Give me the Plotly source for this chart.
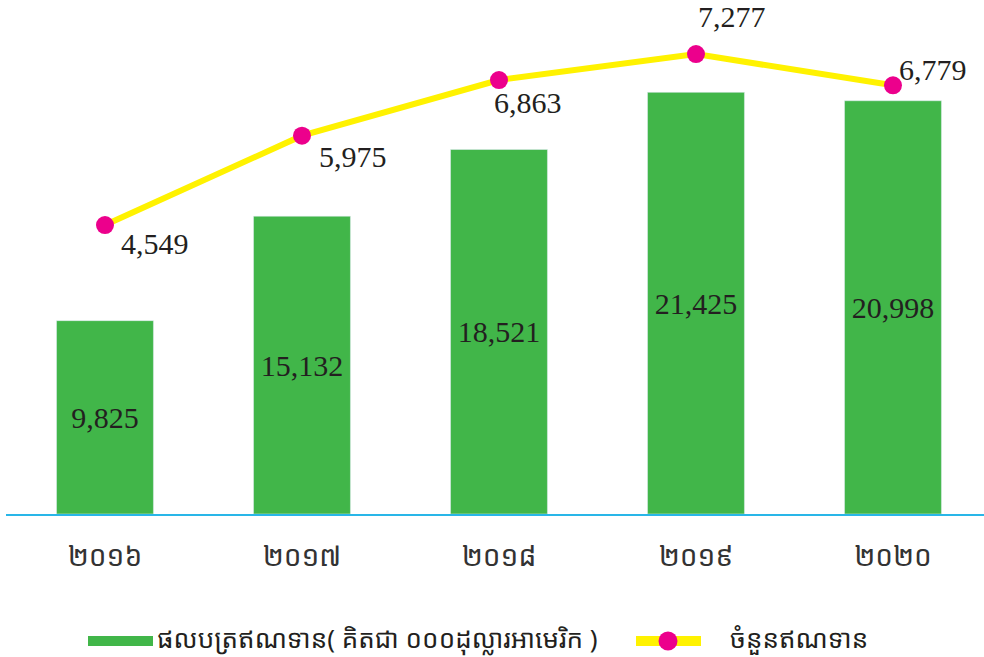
import plotly.graph_objects as go

years = ["២០១៦", "២០១៧", "២០១៨", "២០១៩", "២០២០"]
portfolio = [9825, 15132, 18521, 21425, 20998]
loans = [4549, 5975, 6863, 7277, 6779]
bar_name = "ផលបត្រឥណទាន( គិតជា ០០០ដុល្លារអាមេរិក )"
line_name = "ចំនួនឥណទាន"

GREEN = "#41B649"
YELLOW = "#FFF200"
MAGENTA = "#EC008C"
TXT = "#231F20"
SERIF = "Liberation Serif, Times New Roman, serif"
KHMER = "Noto Sans Khmer, Khmer OS, Noto Sans, DejaVu Sans, sans-serif"

W, H = 984, 657
ML, MR, MT, MB = 6, 0, 10, 143
PW, PH = W - ML - MR, H - MT - MB


def px(x):
    return (x - ML) / PW


def py(y):
    return (H - MB - y) / PH


fig = go.Figure()
fig.add_trace(go.Bar(
    x=years, y=portfolio, marker_color=GREEN, width=0.492, name=bar_name,
    text=[f"{v:,}" for v in portfolio], textposition="inside",
    insidetextanchor="middle", constraintext="none",
    textfont=dict(family=SERIF, size=30, color=TXT),
    showlegend=False, hoverinfo="skip",
))
fig.add_trace(go.Scatter(
    x=years, y=loans, yaxis="y2", mode="lines+markers", name=line_name,
    line=dict(color=YELLOW, width=6),
    marker=dict(color=MAGENTA, size=18),
    showlegend=False,
))

shifts = [(50, -18), (51, -21), (29, -22), (36, 38), (40, 16)]
for yr, v, (dx, dy) in zip(years, loans, shifts):
    fig.add_annotation(x=yr, y=v, yref="y2", xshift=dx, yshift=dy,
                       text=f"{v:,}", showarrow=False,
                       font=dict(family=SERIF, size=30, color=TXT))

# custom legend (wide swatches as in the original)
ly = 641
fig.add_shape(type="rect", xref="paper", yref="paper",
              x0=px(88), x1=px(153), y0=py(ly - 5), y1=py(ly + 5),
              fillcolor=GREEN, line_width=0)
fig.add_annotation(xref="paper", yref="paper", x=px(155), y=py(638),
                   xanchor="left", yanchor="middle", text=bar_name,
                   showarrow=False, font=dict(family=KHMER, size=26, color=TXT))
fig.add_shape(type="rect", xref="paper", yref="paper",
              x0=px(636), x1=px(701), y0=py(ly - 5), y1=py(ly + 5),
              fillcolor=YELLOW, line_width=0)
fig.add_shape(type="circle", xref="paper", yref="paper",
              x0=px(668 - 9.5), x1=px(668 + 9.5), y0=py(ly - 9.5), y1=py(ly + 9.5),
              fillcolor=MAGENTA, line_width=0)
fig.add_annotation(xref="paper", yref="paper", x=px(728), y=py(638),
                   xanchor="left", yanchor="middle", text=line_name,
                   showarrow=False, font=dict(family=KHMER, size=26, color=TXT))

fig.update_layout(
    width=W, height=H,
    margin=dict(l=ML, r=MR, t=MT, b=MB),
    paper_bgcolor="white", plot_bgcolor="white",
    showlegend=False,
    xaxis=dict(range=[-0.5025, 4.462], showline=True, linecolor="#29B6E8",
               linewidth=2, showgrid=False, zeroline=False,
               ticks="", ticklabelstandoff=16,
               tickfont=dict(family=KHMER, size=28, color="#333333")),
    yaxis=dict(range=[0, 25610], visible=False, showgrid=False),
    yaxis2=dict(range=[-60, 7980], overlaying="y", visible=False,
                showgrid=False),
)

fig.write_html("out.html", post_script="document.body.style.margin='0';",
               config={"displayModeBar": False})
